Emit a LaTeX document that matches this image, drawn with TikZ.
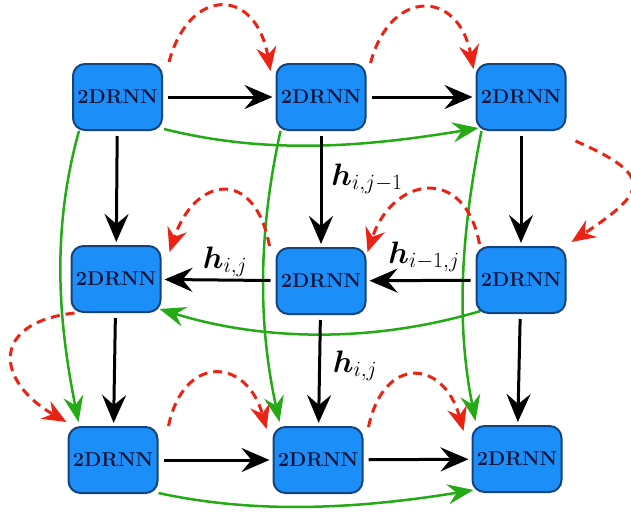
\RequirePackage{fix-cm}
\documentclass[tikz,border=0pt]{standalone}
\usepackage{amsmath,bm}
\usetikzlibrary{arrows.meta}
\definecolor{nodefill}{RGB}{28,142,248}
\definecolor{nodeborder}{RGB}{20,68,125}
\definecolor{grn}{RGB}{35,170,20}
\definecolor{rdd}{RGB}{235,35,20}
\definecolor{txt}{RGB}{15,20,60}
\pgfdeclarelayer{background}
\pgfsetlayers{background,main}
\begin{document}
\begin{tikzpicture}[x=1pt,y=-1pt,
  rnn/.style={draw=nodeborder,fill=nodefill,line width=2pt,rounded corners=12pt,
    minimum width=89pt,minimum height=66pt,inner sep=0pt,
    font=\fontsize{20}{24}\selectfont\bfseries,text=txt},
  blk/.style={line width=3pt,-{Stealth[length=28pt,width=24pt,inset=10pt]},
    shorten >=3pt,shorten <=5pt},
  gline/.style={draw=grn,line width=2.5pt,-{Stealth[length=26pt,width=20pt,inset=9pt]}},
  rdash/.style={draw=rdd,line width=3pt,dash pattern=on 9pt off 6pt,
    -{Stealth[length=24pt,width=20pt,inset=8pt]}},
  lbl/.style={font=\fontsize{31}{36}\selectfont,inner sep=0pt}
]
\useasboundingbox (0,0) rectangle (631,514);

% nodes
\node[rnn] (n11) at (117.5,97) {2DRNN};
\node[rnn] (n12) at (321,97) {2DRNN};
\node[rnn] (n13) at (521,97) {2DRNN};
\node[rnn] (n21) at (116,279) {2DRNN};
\node[rnn] (n22) at (321,281) {2DRNN};
\node[rnn] (n23) at (521,280) {2DRNN};
\node[rnn] (n31) at (113,460) {2DRNN};
\node[rnn] (n32) at (318,460) {2DRNN};
\node[rnn] (n33) at (517,459) {2DRNN};

% labels
\node[lbl] (l1) at (367,179) {$\boldsymbol{h}_{i,j-1}$};
\node[lbl] (l2) at (424,257) {$\boldsymbol{h}_{i-1,j}$};
\node[lbl] (l3) at (225,262) {$\boldsymbol{h}_{i,j}$};
\node[lbl] (l4) at (355,366) {$\boldsymbol{h}_{i,j}$};

% green curves (behind nodes)
\begin{pgfonlayer}{background}
\fill[white] (0,0) rectangle (631,514);
\draw[gline] ([shift={(1,-2)}]n11.south east) .. controls +(100,25) and +(-120,20) .. ([shift={(3,-3)}]n13.south west);
\draw[gline] ([shift={(7,0)}]n11.south west) .. controls +(-28,100) and +(-20,-100) .. ([shift={(11,-4)}]n31.north west);
\draw[gline] ([shift={(5,0)}]n12.south west) .. controls +(-22,100) and +(-22,-100) .. ([shift={(7,-4)}]n32.north west);
\draw[gline] ([shift={(6,0)}]n13.south west) .. controls +(-20,100) and +(-20,-100) .. ([shift={(4,-4)}]n33.north west);
\draw[gline] ([shift={(5,-3)}]n23.south west) .. controls +(-100,30) and +(110,34) .. ([shift={(-2,-4)}]n21.south east);
\draw[gline] ([shift={(0,-1)}]n31.south east) .. controls +(100,22) and +(-110,18) .. ([shift={(2,-3)}]n33.south west);
\end{pgfonlayer}

% black arrows
\draw[blk] (n11) -- (n12);
\draw[blk] (n12) -- (n13);
\draw[blk] (n11) -- (n21);
\draw[blk] (n12) -- (n22);
\draw[blk] (n13) -- (n23);
\draw[blk] (n23) -- (n22);
\draw[blk] (n22) -- (n21);
\draw[blk] (n21) -- (n31);
\draw[blk] (n22) -- (n32);
\draw[blk] (n23) -- (n33);
\draw[blk] (n31) -- (n32);
\draw[blk] (n32) -- (n33);

% red dashed curves
\draw[rdash] ([shift={(6,-1)}]n11.north east) .. controls +(20,-75) and +(-15,-85) .. ([shift={(-5,8)}]n12.north west);
\draw[rdash] ([shift={(4,0)}]n12.north east) .. controls +(20,-75) and +(-15,-80) .. ([shift={(-2,6)}]n13.north west);
\draw[rdash] ([shift={(9,10)}]n13.south east) .. controls +(80,35) and +(75,-50) .. ([shift={(5,-4)}]n23.north east);
\draw[rdash] ([shift={(4,-2)}]n23.north west) .. controls +(-15,-80) and +(25,-75) .. ([shift={(1,5)}]n22.north east);
\draw[rdash] ([shift={(-6,-1)}]n22.north west) .. controls +(-15,-80) and +(25,-75) .. ([shift={(8,7)}]n21.north east);
\draw[rdash] ([shift={(4,0)}]n21.south west) .. controls +(-86,10) and +(-70,-40) .. ([shift={(-1,-4)}]n31.north west);
\draw[rdash] ([shift={(10,0)}]n31.north east) .. controls +(15,-72) and +(-20,-72) .. ([shift={(-6,3)}]n32.north west);
\draw[rdash] ([shift={(5,1)}]n32.north east) .. controls +(15,-72) and +(-20,-72) .. ([shift={(-8,6)}]n33.north west);
\end{tikzpicture}
\end{document}
